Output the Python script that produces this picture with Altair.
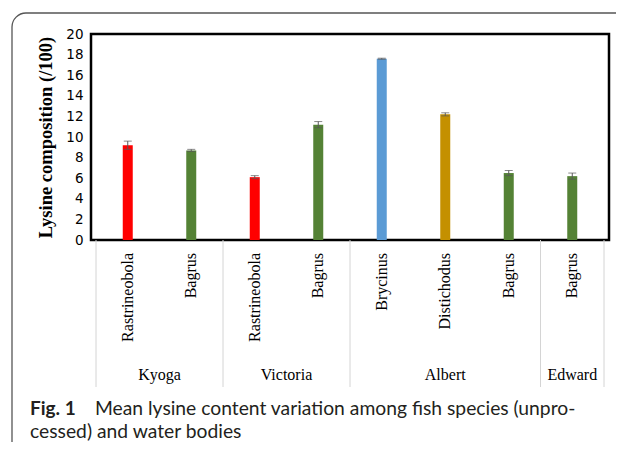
import altair as alt
import pandas as pd
import math

species = ["Rastrineobola", "Bagrus", "Rastrineobola", "Bagrus",
           "Brycinus", "Distichodus", "Bagrus", "Bagrus"]
lakes = ["Kyoga", "Kyoga", "Victoria", "Victoria",
         "Albert", "Albert", "Albert", "Edward"]
lysine = [9.2, 8.7, 6.1, 11.2, 17.6, 12.2, 6.5, 6.2]
errors = [0.4, 0.1, 0.15, 0.3, 0.05, 0.15, 0.25, 0.3]
colors = ["#FF0000", "#548235", "#FF0000", "#548235",
          "#5B9BD5", "#C49000", "#548235", "#548235"]
y_ticks = list(range(0, 21, 2))
caption_bold = "Fig. 1"
caption_line1 = "Mean lysine content variation among fish species (unpro-"
caption_line2 = "cessed) and water bodies"

df = pd.DataFrame({
    "pos": [i + 0.5 for i in range(len(species))],
    "species": species,
    "lake": lakes,
    "lysine": lysine,
    "err": errors,
    "color": colors,
})
df["lo"] = df["lysine"] - df["err"]
df["hi"] = df["lysine"] + df["err"]

caps = pd.concat([
    df[["pos"]].assign(v=df["lo"]),
    df[["pos"]].assign(v=df["hi"]),
])

groups = df.groupby("lake", sort=False)["pos"].mean().reset_index()

bounds = [0]
for i in range(1, len(lakes)):
    if lakes[i] != lakes[i - 1]:
        bounds.append(i)
bounds.append(len(lakes))
seps = pd.DataFrame({"b": bounds})

xs = alt.Scale(domain=[0, len(species)])
ys = alt.Scale(domain=[0, 20], nice=False)
xenc = alt.X("pos:Q", scale=xs, axis=None)
yaxis = alt.Axis(values=y_ticks, grid=False, ticks=False,
                 domain=False, labelOverlap=False,
                 labelFont="DejaVu Sans", labelFontSize=13.5,
                 labelColor="#000000", labelPadding=8,
                 title="Lysine composition (/100)",
                 titleFont="Liberation Serif", titleFontSize=18.5,
                 titleFontWeight="bold", titleColor="#000000",
                 titlePadding=10)

bars = alt.Chart(df).mark_bar(size=10).encode(
    x=xenc,
    y=alt.Y("lysine:Q", scale=ys, axis=yaxis),
    color=alt.Color("color:N", scale=None),
)

err_rule = alt.Chart(df).mark_rule(color="#595959", strokeWidth=1).encode(
    x=xenc, y=alt.Y("lo:Q", scale=ys, axis=yaxis), y2="hi:Q"
)
err_caps = alt.Chart(caps).mark_tick(color="#595959", orient="horizontal",
                                     size=8, thickness=1).encode(
    x=xenc, y=alt.Y("v:Q", scale=ys, axis=yaxis)
)

sp_labels = alt.Chart(df).mark_text(
    angle=270, align="right", baseline="middle",
    font="Liberation Serif", fontSize=16, color="#000000"
).encode(x=xenc, y=alt.value(219), text="species:N")

grp_labels = alt.Chart(groups).mark_text(
    align="center", baseline="middle",
    font="Liberation Serif", fontSize=16, color="#000000"
).encode(x=alt.X("pos:Q", scale=xs, axis=None), y=alt.value(341), text="lake:N")

sep_rules = alt.Chart(seps).mark_rule(color="#d4d4d4", strokeWidth=1).encode(
    x=alt.X("b:Q", scale=xs, axis=None), y=alt.value(206), y2=alt.value(353)
)

one = pd.DataFrame({"k": [0]})
frame_col = "#555555"
frame_top = alt.Chart(one).mark_rule(color=frame_col, strokeWidth=1.3).encode(
    x=alt.value(-65), x2=alt.value(700), y=alt.value(-21)
)
frame_left = alt.Chart(one).mark_rule(color=frame_col, strokeWidth=1.3).encode(
    x=alt.value(-79), y=alt.value(-7), y2=alt.value(600)
)
frame_corner = alt.Chart(one).mark_arc(
    color=frame_col, radius=14.65, radius2=13.35,
    theta=1.5 * math.pi, theta2=2 * math.pi
).encode(x=alt.value(-65), y=alt.value(-7))

font_cap = "Lato"
cap_bold = alt.Chart(pd.DataFrame({"t": [caption_bold]})).mark_text(
    align="left", baseline="alphabetic", font=font_cap, fontSize=19,
    fontWeight="bold", color="#231f20"
).encode(x=alt.value(-61), y=alt.value(381), text="t:N")
cap_l1 = alt.Chart(pd.DataFrame({"t": [caption_line1]})).mark_text(
    align="left", baseline="alphabetic", font=font_cap, fontSize=19.3,
    color="#231f20"
).encode(x=alt.value(4), y=alt.value(381), text="t:N")
cap_l2 = alt.Chart(pd.DataFrame({"t": [caption_line2]})).mark_text(
    align="left", baseline="alphabetic", font=font_cap, fontSize=19.3,
    color="#231f20"
).encode(x=alt.value(-61), y=alt.value(404), text="t:N")

chart = alt.layer(
    frame_top, frame_left, frame_corner, sep_rules, bars, err_rule, err_caps,
    sp_labels, grp_labels, cap_bold, cap_l1, cap_l2
).properties(
    width=518, height=206,
    autosize=alt.AutoSizeParams(type="none"),
    padding={"left": 83, "top": 26, "right": 7, "bottom": 202},
).configure(
    background="#ffffff"
).configure_view(
    stroke="#000000", strokeWidth=2.5
)

chart.save("out.html", embed_options={"renderer": "svg", "actions": False})
